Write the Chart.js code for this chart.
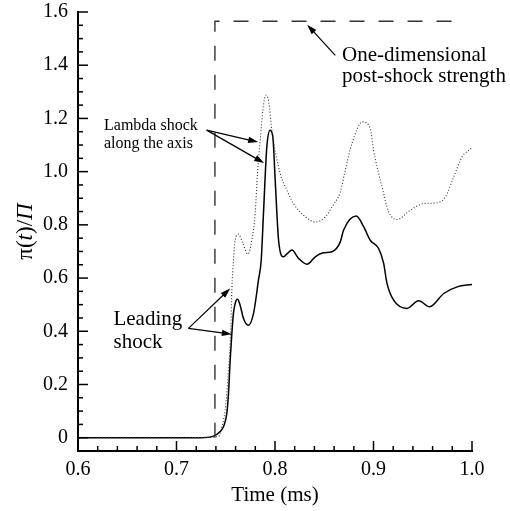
<!DOCTYPE html>
<html>
<head>
<meta charset="utf-8">
<script src="https://cdn.jsdelivr.net/npm/chart.js@4.4.1/dist/chart.umd.min.js"></script>
<style>
html,body{margin:0;padding:0;background:#fff;}
#wrap{width:510px;height:511px;position:relative;}
</style>
</head>
<body>
<div id="wrap"><canvas id="c"></canvas></div>
<script>
// ---- data ----
const solidTime = [0.600,0.700,0.724,0.7375,0.7443,0.7484,0.7511,0.7528,0.7545,0.7562,0.7578,0.7596,0.7619,0.7646,0.768,0.7731,0.7782,0.7832,0.786,0.7883,0.7917,0.7951,0.7978,0.8002,0.8036,0.8086,0.8127,0.8172,0.8239,0.8324,0.8409,0.8493,0.8578,0.8663,0.8696,0.8825,0.89,0.8967,0.9052,0.9103,0.9137,0.9204,0.934,0.9458,0.957,0.9713,0.9849,1.0];
const solidValue = [0,0,0.0,0.006,0.023,0.048,0.092,0.167,0.292,0.392,0.467,0.505,0.52,0.498,0.448,0.423,0.467,0.592,0.667,0.843,1.093,1.156,1.131,0.968,0.743,0.68,0.693,0.705,0.674,0.652,0.68,0.695,0.699,0.736,0.78,0.833,0.793,0.742,0.711,0.655,0.58,0.517,0.486,0.515,0.492,0.542,0.567,0.576];

const dottedTime = [0.600,0.700,0.7426,0.746,0.7494,0.7528,0.7552,0.7562,0.7578,0.7596,0.7629,0.7674,0.7725,0.7765,0.7799,0.7822,0.785,0.7877,0.7907,0.7934,0.7968,0.8053,0.8121,0.8188,0.829,0.8409,0.8511,0.858,0.8663,0.8713,0.8781,0.8889,0.8967,0.9001,0.9086,0.9154,0.9239,0.9374,0.9509,0.9645,0.973,0.9814,0.9899,0.9991];
const dottedValue = [0,0,0.004,0.041,0.104,0.254,0.417,0.555,0.667,0.743,0.765,0.73,0.69,0.743,0.843,0.993,1.118,1.231,1.287,1.268,1.156,0.993,0.93,0.88,0.836,0.811,0.83,0.868,0.924,1.005,1.106,1.187,1.162,1.08,0.943,0.849,0.82,0.855,0.88,0.883,0.905,0.98,1.055,1.087];

const dashedTime = [0.739,0.739,0.988];
const dashedValue = [0,1.565,1.565];

const xMajorTicks = [0.6,0.7,0.8,0.9,1.0];
const xTickLabels = ['0.6','0.7','0.8','0.9','1.0'];
const yMajorTicks = [0,0.2,0.4,0.6,0.8,1.0,1.2,1.4,1.6];
const yTickLabels = ['0','0.2','0.4','0.6','0.8','1.0','1.2','1.4','1.6'];
const xMinorStep = 0.02;
const yMinorStep = 0.05;

const xTitle = 'Time (ms)';
const yTitleParts = [['\u03c0(',false],['t',true],[')/',false],['\u03a0',true]];

// annotations (in data units: time, value)
const lambdaText = ['Lambda shock','along the axis'];
const lambdaTextPos = [0.6264,1.157];
const lambdaArrowFrom = [0.7306,1.156];
const lambdaArrowTo = [[0.7829,1.111],[0.789,1.032]];

const oneDimText = ['One-dimensional','post-shock strength'];
const oneDimTextPos = [0.868,1.414];
const oneDimArrowFrom = [0.8612,1.437];
const oneDimArrowTo = [[0.8327,1.552]];

const leadingText = ['Leading','shock'];
const leadingTextPos = [0.636,0.422];
const leadingArrowFrom = [0.7121,0.411];
const leadingArrowTo = [[0.7545,0.561],[0.7562,0.389]];

const FONT = '"Liberation Serif","Times New Roman",serif';

function pts(xs, ys){ return xs.map((x,i)=>({x:x,y:ys[i]})); }

const tickPlugin = {
  id:'inwardTicks',
  afterDraw(chart){
    const ctx = chart.ctx, ca = chart.chartArea, xs = chart.scales.x, ys = chart.scales.y;
    ctx.save();
    ctx.setLineDash([]);
    ctx.strokeStyle = '#000'; ctx.lineWidth = 1.5;
    const nx = Math.round((xMajorTicks[xMajorTicks.length-1] - xMajorTicks[0]) / xMinorStep);
    for (let i = 0; i <= nx; i++) {
      const v = xMajorTicks[0] + i*xMinorStep;
      const px = xs.getPixelForValue(v);
      ctx.beginPath(); ctx.moveTo(px, ca.bottom); ctx.lineTo(px, ca.bottom - (i % 5 === 0 ? 10 : 5)); ctx.stroke();
    }
    const ny = Math.round((yMajorTicks[yMajorTicks.length-1] - yMajorTicks[0]) / yMinorStep);
    for (let i = 0; i <= ny; i++) {
      const v = yMajorTicks[0] + i*yMinorStep;
      const py = ys.getPixelForValue(v);
      ctx.beginPath(); ctx.moveTo(ca.left, py); ctx.lineTo(ca.left + (i % 4 === 0 ? 10 : 5), py); ctx.stroke();
    }
    ctx.restore();
  }
};

const decorPlugin = {
  id:'decor',
  afterDraw(chart){
    const ctx = chart.ctx, xs = chart.scales.x, ys = chart.scales.y, ca = chart.chartArea;
    const X = v=>xs.getPixelForValue(v), Y = v=>ys.getPixelForValue(v);
    ctx.save();
    ctx.setLineDash([]);
    ctx.strokeStyle = '#000'; ctx.fillStyle = '#000';

    ctx.font = '21px ' + FONT;
    ctx.textAlign = 'center'; ctx.textBaseline = 'alphabetic';
    ctx.fillText(xTitle, (ca.left+ca.right)/2, 501);
    ctx.save();
    ctx.translate(32, (ca.top+ca.bottom)/2);
    ctx.rotate(-Math.PI/2);
    let total = 0;
    const widths = yTitleParts.map(p=>{ ctx.font = (p[1]?'italic ':'') + '23px ' + FONT; const w = ctx.measureText(p[0]).width; total += w; return w; });
    let cx = -total/2;
    ctx.textAlign = 'left';
    yTitleParts.forEach((p,i)=>{ ctx.font = (p[1]?'italic ':'') + '23px ' + FONT; ctx.fillText(p[0], cx, 0); cx += widths[i]; });
    ctx.restore();

    function lines(arr, pos, size, lh){
      ctx.font = size + 'px ' + FONT; ctx.textAlign = 'left'; ctx.textBaseline = 'alphabetic';
      arr.forEach((t,i)=>ctx.fillText(t, X(pos[0]), Y(pos[1]) + i*lh));
    }
    lines(lambdaText, lambdaTextPos, 16, 18);
    lines(oneDimText, oneDimTextPos, 21, 20.5);
    lines(leadingText, leadingTextPos, 21, 23);

    function arrow(from, to){
      const x0 = X(from[0]), y0 = Y(from[1]), x1 = X(to[0]), y1 = Y(to[1]);
      const a = Math.atan2(y1-y0, x1-x0), L = 10, W = 3.2;
      ctx.lineWidth = 1.2;
      ctx.beginPath(); ctx.moveTo(x0,y0); ctx.lineTo(x1 - Math.cos(a)*L*0.8, y1 - Math.sin(a)*L*0.8); ctx.stroke();
      ctx.beginPath();
      ctx.moveTo(x1,y1);
      ctx.lineTo(x1 - Math.cos(a)*L + Math.sin(a)*W, y1 - Math.sin(a)*L - Math.cos(a)*W);
      ctx.lineTo(x1 - Math.cos(a)*L - Math.sin(a)*W, y1 - Math.sin(a)*L + Math.cos(a)*W);
      ctx.closePath(); ctx.fill();
    }
    lambdaArrowTo.forEach(t=>arrow(lambdaArrowFrom,t));
    oneDimArrowTo.forEach(t=>arrow(oneDimArrowFrom,t));
    leadingArrowTo.forEach(t=>arrow(leadingArrowFrom,t));
    ctx.restore();
  }
};

new Chart(document.getElementById('c'), {
  type:'line',
  data:{
    datasets:[
      {data:pts(dashedTime,dashedValue), borderColor:'#333', borderWidth:1.4, borderDash:[15,14], pointRadius:0, tension:0, fill:false},
      {data:pts(dottedTime,dottedValue), borderColor:'#333', borderWidth:1.1, borderDash:[1,2], pointRadius:0, cubicInterpolationMode:'monotone', fill:false},
      {data:pts(solidTime,solidValue), borderColor:'#000', borderWidth:1.5, pointRadius:0, cubicInterpolationMode:'monotone', fill:false}
    ]
  },
  options:{
    responsive:true, maintainAspectRatio:false, animation:false,
    devicePixelRatio:1,
    layout:{padding:{left:0,right:38,top:12,bottom:0}},
    plugins:{legend:{display:false}, tooltip:{enabled:false}},
    scales:{
      x:{type:'linear', min:0.6, max:1.0,
        grid:{display:false, drawTicks:false},
        border:{display:true, color:'#000', width:2},
        afterBuildTicks(s){ s.ticks = xMajorTicks.map(v=>({value:v})); },
        afterFit(s){ s.height = 60; s.paddingLeft = 0; s.paddingRight = 0; },
        ticks:{autoSkip:false, maxRotation:0, padding:7, color:'#000', font:{family:FONT, size:20},
          callback:(v,i)=>xTickLabels[i]}
      },
      y:{type:'linear', min:-0.05, max:1.6,
        grid:{display:false, drawTicks:false},
        border:{display:true, color:'#000', width:2},
        afterBuildTicks(s){ s.ticks = yMajorTicks.map(v=>({value:v})); },
        afterFit(s){ s.width = 78; s.paddingTop = 0; s.paddingBottom = 0; },
        ticks:{autoSkip:false, padding:10, color:'#000', font:{family:FONT, size:20},
          callback:(v,i)=>yTickLabels[i]}
      }
    }
  },
  plugins:[tickPlugin, decorPlugin]
});
</script>
</body>
</html>
